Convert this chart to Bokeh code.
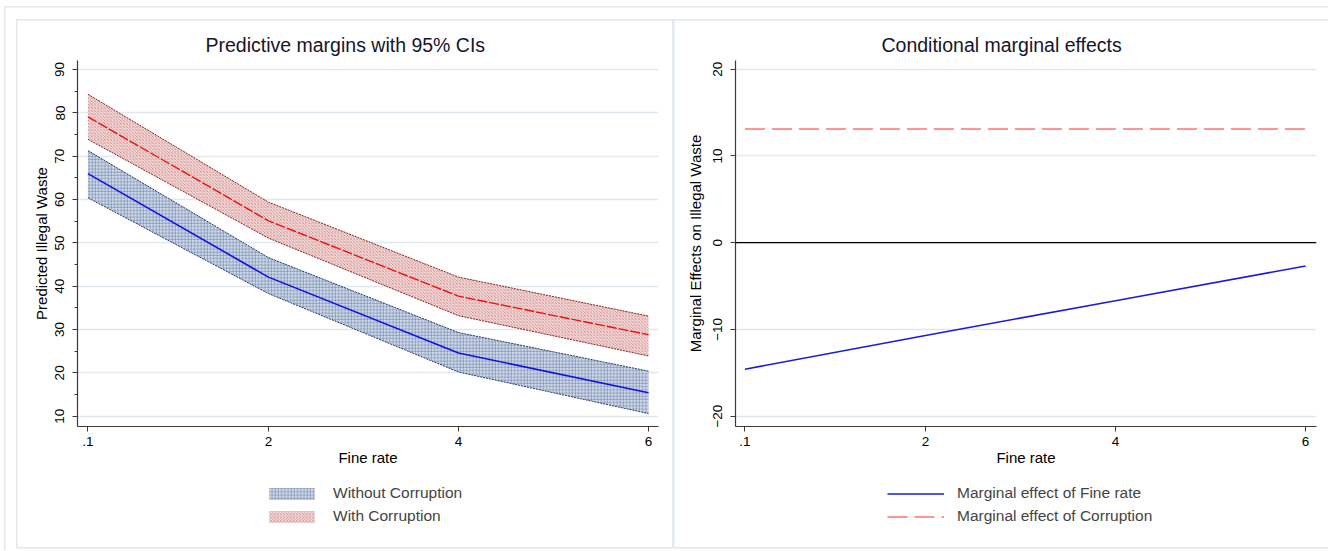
from bokeh.plotting import figure
from bokeh.models import Range1d, FixedTicker, Legend, LegendItem, Span
from bokeh.layouts import row, column
from bokeh.embed import file_html
from bokeh.resources import INLINE

# ---------------- data ----------------
fine_rate = [0.1, 2, 4, 6]
x_tick_vals = [0.1, 2, 4, 6]
x_tick_labels = [".1", "2", "4", "6"]

no_corr_mean = [66.0, 42.1, 24.6, 15.4]
no_corr_lo = [60.4, 38.3, 20.2, 10.6]
no_corr_hi = [71.3, 46.6, 29.3, 20.4]

corr_mean = [79.1, 55.1, 37.7, 28.8]
corr_lo = [73.9, 51.1, 33.2, 23.9]
corr_hi = [84.3, 59.4, 42.1, 33.1]

me_fine = [-14.6, -10.7, -6.7, -2.7]
me_corr = [13.1, 13.1, 13.1, 13.1]

left_y_ticks = [10, 20, 30, 40, 50, 60, 70, 80, 90]
left_y_minor = [15, 25, 35, 45, 55, 65, 75, 85]
right_y_ticks = [-20, -10, 0, 10, 20]

FONT = "Liberation Sans"
GRID = "#dfe8ee"
C = "#e1e9ee"

BLUE_BAND = dict(fill_color="#cfd7e6", fill_alpha=1.0, hatch_pattern="cross",
                 hatch_color="#3d5c8f", hatch_scale=3.2, hatch_weight=0.6, hatch_alpha=0.6)
RED_BAND = dict(fill_color="#f3dcdc", fill_alpha=1.0, hatch_pattern="diagonal_cross",
                hatch_color="#b04848", hatch_scale=3.2, hatch_weight=0.6, hatch_alpha=0.6)
FINE_LINE = dict(line_color="#1a1ae6", line_width=1.6)
CORR_LINE = dict(line_color="#ff7373", line_width=1.4, line_dash="20 7")


def lg(x, y, w, h):
    return f"linear-gradient({C},{C}) {x} {y} / {w} {h} no-repeat"


def style(p, yticks, yminor=None):
    p.outline_line_color = None
    p.border_fill_color = None
    p.background_fill_color = "white"
    p.xgrid.grid_line_color = None
    p.ygrid.grid_line_color = GRID
    p.ygrid.grid_line_width = 1.6
    p.xaxis.ticker = FixedTicker(ticks=x_tick_vals)
    p.xaxis.major_label_overrides = {v: l for v, l in zip(x_tick_vals, x_tick_labels)}
    p.yaxis.ticker = FixedTicker(ticks=yticks, minor_ticks=yminor or [])
    p.ygrid.ticker = FixedTicker(ticks=yticks)
    for ax in (p.xaxis, p.yaxis):
        ax.axis_line_color = "#3a3a3a"
        ax.axis_line_width = 1.2
        ax.major_tick_line_color = "#3a3a3a"
        ax.minor_tick_line_color = "#3a3a3a"
        ax.major_tick_out = 5
        ax.major_tick_in = 0
        ax.minor_tick_out = 3
        ax.minor_tick_in = 0
        ax.major_label_text_font = FONT
        ax.major_label_text_font_size = "13.5px"
        ax.major_label_text_color = "black"
        ax.axis_label_text_font = FONT
        ax.axis_label_text_font_size = "15px"
        ax.axis_label_text_font_style = "normal"
        ax.axis_label_text_color = "black"
    p.yaxis.major_label_orientation = "vertical"
    p.yaxis.major_label_standoff = 8
    p.xaxis.major_label_standoff = 5
    p.xaxis.axis_label_standoff = 0
    p.title.text_font = FONT
    p.title.text_font_size = "19.5px"
    p.title.text_font_style = "normal"
    p.title.text_color = "#15152a"
    p.title.align = "left"
    p.title.standoff = 9


def legend_fig(width, css):
    f = figure(frame_width=width, frame_height=70,
               min_border_left=0, min_border_right=0, min_border_top=0, min_border_bottom=0,
               x_range=Range1d(-100, -99), y_range=Range1d(-100, -99),
               x_axis_type=None, y_axis_type=None,
               output_backend="svg", toolbar_location=None)
    f.outline_line_color = None
    f.border_fill_color = None
    f.background_fill_color = None
    f.xgrid.grid_line_color = None
    f.ygrid.grid_line_color = None
    f.styles = {"background": css}
    return f


def make_legend(items, loc):
    return Legend(items=items, location=loc, orientation="vertical",
                  glyph_width=57, glyph_height=15, label_height=15,
                  spacing=5, padding=2, margin=0, label_standoff=13,
                  label_text_font=FONT, label_text_font_size="15.5px",
                  border_line_color=None, background_fill_alpha=0)


# ---------------- left panel ----------------
left = figure(frame_width=581, frame_height=366,
              min_border_left=77, min_border_right=15,
              min_border_top=60, min_border_bottom=54,
              x_range=Range1d(-0.01, 6.105), y_range=Range1d(7.62, 92.1),
              output_backend="svg", toolbar_location=None,
              title="Predictive margins with 95% CIs")
style(left, left_y_ticks, left_y_minor)
left.title.offset = 128
left.xaxis.axis_label = "Fine rate"
left.yaxis.axis_label = "Predicted Illegal Waste"
left.yaxis.axis_label_standoff = 3
left.styles = {"background": ", ".join([
    lg("5px", "6px", "100%", "1.5px"), lg("4px", "6px", "1.5px", "100%"),
    lg("17px", "19px", "100%", "1.5px"), lg("16px", "19px", "1.5px", "100%"),
    lg("100%", "19px", "1.5px", "100%")])}

left.varea(x=fine_rate, y1=no_corr_lo, y2=no_corr_hi, **BLUE_BAND)
left.line(fine_rate, no_corr_lo, line_color="#23386a", line_width=1, line_dash="2 1")
left.line(fine_rate, no_corr_hi, line_color="#23386a", line_width=1, line_dash="2 1")
left.varea(x=fine_rate, y1=corr_lo, y2=corr_hi, **RED_BAND)
left.line(fine_rate, corr_lo, line_color="#8a2020", line_width=1, line_dash="2 1")
left.line(fine_rate, corr_hi, line_color="#8a2020", line_width=1, line_dash="2 1")
left.line(fine_rate, no_corr_mean, line_color="#1010e8", line_width=1.6)
left.line(fine_rate, corr_mean, line_color="#f01010", line_width=1.4, line_dash="10 2")

left_leg = legend_fig(673, ", ".join([
    lg("4px", "0", "1.5px", "100%"), lg("16px", "0", "1.5px", "68px"),
    lg("16px", "67px", "100%", "1.5px"), lg("100%", "0", "1.5px", "68px")]))
lb = left_leg.varea(x=fine_rate, y1=no_corr_lo, y2=no_corr_hi, **BLUE_BAND)
lr = left_leg.varea(x=fine_rate, y1=corr_lo, y2=corr_hi, **RED_BAND)
left_leg.add_layout(make_legend([LegendItem(label="Without Corruption", renderers=[lb]),
                                 LegendItem(label="With Corruption", renderers=[lr])],
                                (263, 25)), "center")

# ---------------- right panel ----------------
right = figure(frame_width=581, frame_height=366,
               min_border_left=62, min_border_right=12,
               min_border_top=60, min_border_bottom=54,
               x_range=Range1d(0.001, 6.115), y_range=Range1d(-21.2, 21.0),
               output_backend="svg", toolbar_location=None,
               title="Conditional marginal effects")
style(right, right_y_ticks)
right.title.offset = 146
right.xaxis.axis_label = "Fine rate"
right.yaxis.axis_label = "Marginal Effects on Illegal Waste"
right.yaxis.axis_label_standoff = 7
right.styles = {"background": ", ".join([
    lg("0", "6px", "100%", "1.5px"), lg("0", "19px", "100%", "1.5px"),
    lg("0", "19px", "1.5px", "100%")])}

right.add_layout(Span(location=0, dimension="width", line_color="black", line_width=1.4))
right.line(fine_rate, me_fine, **FINE_LINE)
right.line(fine_rate, me_corr, **CORR_LINE)

right_leg = legend_fig(655, ", ".join([
    lg("0", "0", "1.5px", "68px"), lg("0", "67px", "100%", "1.5px")]))
rf = right_leg.line(fine_rate, me_fine, **FINE_LINE)
rc = right_leg.line(fine_rate, me_corr, **CORR_LINE)
right_leg.add_layout(make_legend([LegendItem(label="Marginal effect of Fine rate", renderers=[rf]),
                                  LegendItem(label="Marginal effect of Corruption", renderers=[rc])],
                                 (214, 25)), "center")

layout = row(column(left, left_leg, spacing=0), column(right, right_leg, spacing=0), spacing=0)
open("out.html", "w").write(file_html(layout, INLINE))
